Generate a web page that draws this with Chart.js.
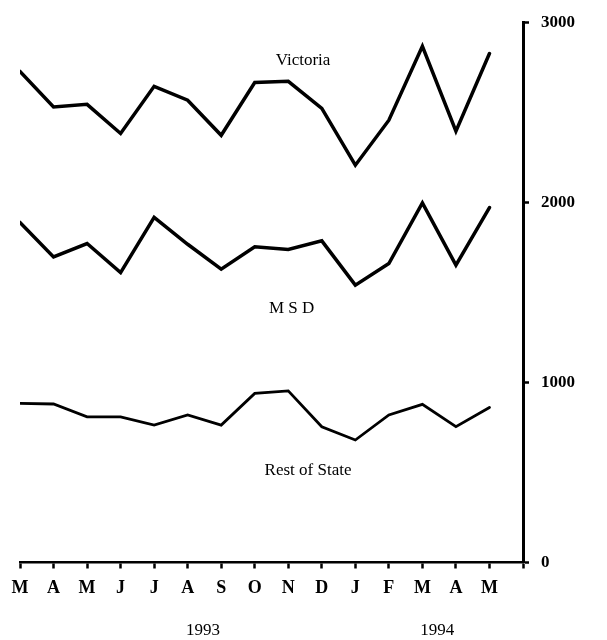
<!DOCTYPE html>
<html>
<head>
<meta charset="utf-8">
<script src="https://cdn.jsdelivr.net/npm/chart.js@4/dist/chart.umd.min.js"></script>
<style>
  html, body { margin: 0; padding: 0; background: #fff; }
  #wrap { width: 607px; height: 640px; }
</style>
</head>
<body>
<div id="wrap"><canvas id="chart" width="607" height="640"></canvas></div>
<script>
// Maanedsdata, marts 1993 til maj 1994
const months = ['M', 'A', 'M', 'J', 'J', 'A', 'S', 'O', 'N', 'D', 'J', 'F', 'M', 'A', 'M'];
const victoria = [2727, 2529, 2544, 2382, 2644, 2567, 2372, 2665, 2672, 2521, 2206, 2456, 2866, 2395, 2826];
const msd = [1888, 1697, 1771, 1610, 1916, 1767, 1629, 1753, 1738, 1786, 1540, 1660, 1997, 1651, 1971];
const restOfState = [883, 880, 809, 809, 763, 819, 763, 939, 953, 754, 680, 819, 878, 754, 861];
const yTicks = [0, 1000, 2000, 3000];

const serif = '"Liberation Serif", "DejaVu Serif", serif';

function toPoints(values) {
    return values.map((v, i) => ({ x: i, y: v }));
}

// Tekster paa grafen (serienavne og aarstal)
const labelPlugin = {
    id: 'labels',
    afterDraw(chart) {
        const ctx = chart.ctx;
        const xs = chart.scales.x;
        const ys = chart.scales.y;
        ctx.save();
        ctx.fillStyle = '#000';
        ctx.textAlign = 'center';
        ctx.textBaseline = 'middle';
        ctx.font = '17px ' + serif;
        ctx.fillText('Victoria', xs.getPixelForValue(8.44), ys.getPixelForValue(2789));
        ctx.fillText('M S D', xs.getPixelForValue(8.1), ys.getPixelForValue(1412));
        ctx.fillText('Rest of State', xs.getPixelForValue(8.59), ys.getPixelForValue(513));
        ctx.font = '17px ' + serif;
        ctx.fillText('1993', xs.getPixelForValue(5.46), 631);
        ctx.fillText('1994', xs.getPixelForValue(12.44), 631);
        ctx.restore();
    }
};

new Chart(document.getElementById('chart'), {
    type: 'line',
    data: {
        datasets: [
            { label: 'Victoria', data: toPoints(victoria), borderColor: '#000', borderWidth: 3.5 },
            { label: 'MSD', data: toPoints(msd), borderColor: '#000', borderWidth: 3.5 },
            { label: 'Rest of State', data: toPoints(restOfState), borderColor: '#000', borderWidth: 2.8 }
        ]
    },
    options: {
        responsive: false,
        animation: false,
        devicePixelRatio: 1,
        layout: { padding: { left: 20, top: 22, right: 0, bottom: 0 } },
        elements: {
            point: { radius: 0 },
            line: { tension: 0, fill: false, borderCapStyle: 'round', borderJoinStyle: 'miter' }
        },
        plugins: {
            legend: { display: false },
            tooltip: { enabled: false }
        },
        scales: {
            x: {
                type: 'linear',
                min: 0,
                max: 15,
                afterFit: function(scale) { scale.height = 77.5; },
                afterBuildTicks: function(scale) {
                    scale.ticks = [];
                    for (let i = 0; i <= 15; i++) scale.ticks.push({ value: i });
                },
                grid: {
                    drawOnChartArea: false,
                    drawTicks: true,
                    tickLength: 6,
                    tickWidth: 2.5,
                    color: '#000'
                },
                border: { display: true, color: '#000', width: 2.5 },
                ticks: {
                    padding: 9,
                    color: '#000',
                    font: { family: serif, size: 18, weight: 'bold' },
                    maxRotation: 0,
                    autoSkip: false,
                    callback: function(value) {
                        return months[value] !== undefined ? months[value] : '';
                    }
                }
            },
            y: {
                position: 'right',
                min: 0,
                max: 3000,
                afterFit: function(scale) { scale.width = 84; },
                afterBuildTicks: function(scale) {
                    scale.ticks = yTicks.map(v => ({ value: v }));
                },
                grid: {
                    drawOnChartArea: false,
                    drawTicks: true,
                    tickLength: 6,
                    tickWidth: 2.5,
                    color: '#000'
                },
                border: { display: true, color: '#000', width: 3 },
                ticks: {
                    padding: 12,
                    color: '#000',
                    font: { family: serif, size: 17, weight: 'bold' },
                    callback: function(value) { return String(value); }
                }
            }
        }
    },
    plugins: [labelPlugin]
});
</script>
</body>
</html>
